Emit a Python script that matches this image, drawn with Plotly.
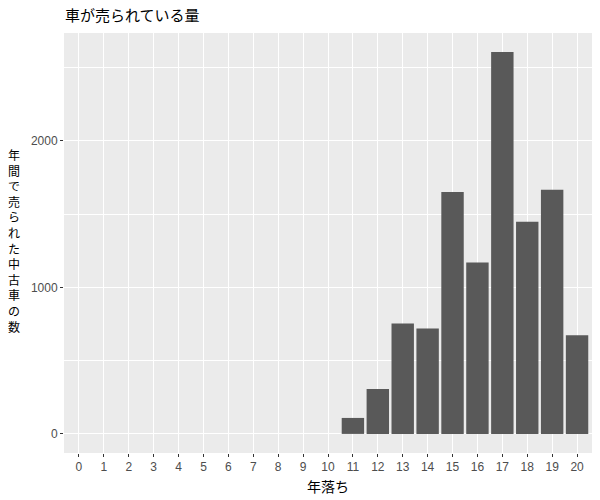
import plotly.graph_objects as go

# data
years_old = [str(i) for i in range(21)]
cars_sold = [0, 0, 0, 0, 0, 0, 0, 0, 0, 0, 0,
             109, 306, 754, 720, 1651, 1169, 2605, 1447, 1665, 673]
y_ticks = [0, 1000, 2000]

title_text = "車が売られている量"
x_title = "年落ち"
y_title = "年間で売られた中古車の数"

jp_font = "Noto Sans CJK JP"
num_font = "Liberation Sans"

fig = go.Figure()
fig.add_trace(go.Bar(x=years_old, y=cars_sold,
                     marker=dict(color="#595959", line=dict(width=0)),
                     showlegend=False))

# ggplot-like expansion of the y range
ymax = max(cars_sold)
pad = 0.05 * ymax

fig.update_layout(
    width=600, height=500,
    margin=dict(l=64, r=8, t=33, b=45),
    paper_bgcolor="white",
    plot_bgcolor="#EBEBEB",
    bargap=0.1,
    font=dict(family=jp_font, color="black"),
    title=dict(text=title_text, x=65/600, xanchor="left", y=1-16/500, yanchor="middle",
               font=dict(size=15, family=jp_font, color="black")),
    xaxis=dict(type="category", categoryorder="array", categoryarray=years_old,
               range=[-0.6, 20.6], showgrid=True, gridcolor="white", gridwidth=1.1,
               ticks="outside", ticklen=3, tickcolor="#333333", tickwidth=1.1,
               tickfont=dict(family=num_font, size=12, color="#4D4D4D"),
               zeroline=False, showline=False,
               title=dict(text=x_title, standoff=8,
                          font=dict(family=jp_font, size=14, color="black"))),
    yaxis=dict(range=[-pad, ymax + pad], tickvals=y_ticks,
               showgrid=True, gridcolor="white", gridwidth=1.1,
               minor=dict(dtick=500, tick0=0, showgrid=True, gridcolor="white", gridwidth=0.5),
               ticks="outside", ticklen=3, tickcolor="#333333", tickwidth=1.1,
               tickfont=dict(family=num_font, size=12, color="#4D4D4D"),
               zeroline=False, showline=False),
)

# vertical stacked y-axis title, one character per line as in the reference
fig.add_annotation(text="<br>".join(y_title), xref="paper", yref="paper",
                   x=-50/528, y=0.5, xanchor="center", yanchor="middle",
                   yshift=3, showarrow=False, align="center",
                   font=dict(family=jp_font, size=12, color="black"))

fig.write_html("out.html", config={"displayModeBar": False},
               post_script="document.body.style.margin='0';")
